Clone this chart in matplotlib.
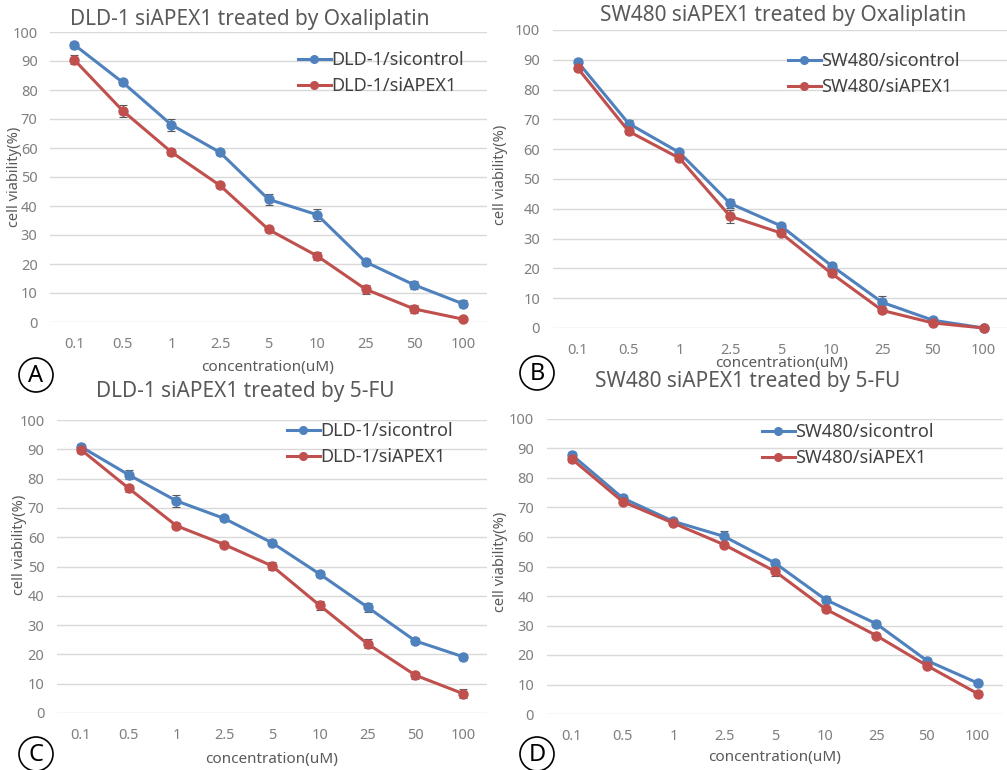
import matplotlib
matplotlib.use("Agg")
import matplotlib.pyplot as plt
from matplotlib.patches import Ellipse
from matplotlib.lines import Line2D
import numpy as np

plt.rcParams['font.family'] = ['Noto Sans', 'DejaVu Sans']

conc = ['0.1', '0.5', '1', '2.5', '5', '10', '25', '50', '100']

# Panel A: DLD-1 Oxaliplatin
a_ctrl = [95.6, 82.6, 68.0, 58.5, 42.3, 37.0, 20.7, 12.8, 6.3]
a_ctrl_err = [1.0, 1.0, 2.0, 0.8, 2.0, 2.0, 1.0, 1.5, 1.2]
a_si = [90.4, 72.8, 58.6, 47.1, 31.9, 22.8, 11.3, 4.5, 1.0]
a_si_err = [1.5, 2.2, 1.0, 0.8, 0.8, 1.5, 1.5, 1.5, 0.5]

# Panel B: SW480 Oxaliplatin
b_ctrl = [89.2, 68.6, 58.9, 41.8, 34.3, 20.9, 8.6, 2.6, 0.0]
b_ctrl_err = [1.0, 1.2, 0.8, 1.5, 1.0, 0.8, 2.0, 0.5, 0.3]
b_si = [87.1, 66.0, 57.0, 37.5, 31.9, 18.3, 5.9, 1.7, 0.0]
b_si_err = [0.8, 0.8, 0.8, 2.2, 0.8, 1.0, 0.8, 0.5, 0.3]

# Panel C: DLD-1 5-FU
c_ctrl = [90.9, 81.3, 72.4, 66.4, 58.1, 47.4, 36.1, 24.6, 19.2]
c_ctrl_err = [1.0, 1.5, 2.0, 0.8, 0.8, 1.0, 1.5, 1.0, 1.0]
c_si = [89.9, 76.7, 63.9, 57.5, 50.2, 36.7, 23.6, 12.9, 6.6]
c_si_err = [1.0, 1.2, 1.0, 0.8, 1.5, 1.5, 1.5, 1.2, 1.5]

# Panel D: SW480 5-FU
d_ctrl = [87.8, 73.2, 65.3, 60.2, 51.2, 38.8, 30.6, 18.1, 10.5]
d_ctrl_err = [1.0, 1.0, 1.0, 1.8, 1.0, 1.2, 1.0, 1.0, 0.8]
d_si = [86.4, 72.0, 64.7, 57.4, 48.4, 35.6, 26.6, 16.4, 6.9]
d_si_err = [1.0, 0.8, 0.8, 0.8, 1.5, 1.0, 1.0, 0.8, 0.8]

W, H = 1007, 770
BLUE = '#4F81BD'
RED = '#C0504D'
TXT = '#595959'
TICK = '#7F7F7F'

fig = plt.figure(figsize=(W / 100, H / 100), dpi=100)


def fx(x):
    return x / W


def fy(y):
    return 1 - y / H


panels = [
    dict(box=(50, 487, 32, 322), title='DLD-1 siAPEX1 treated by Oxaliplatin', tpos=(250, 20),
         ctrl=a_ctrl, ce=a_ctrl_err, si=a_si, se=a_si_err,
         labels=('DLD-1/sicontrol', 'DLD-1/siAPEX1'), leg=(298, 51),
         xl=(268, 368), yl=(15, 177), letter='A', lpos=(36, 375)),
    dict(box=(552.6, 1009, 30, 328), title='SW480 siAPEX1 treated by Oxaliplatin', tpos=(783, 16),
         ctrl=b_ctrl, ce=b_ctrl_err, si=b_si, se=b_si_err,
         labels=('SW480/sicontrol', 'SW480/siAPEX1'), leg=(788, 52),
         xl=(782, 364), yl=(500, 175), letter='B', lpos=(537, 373)),
    dict(box=(57, 487, 420, 713), title='DLD-1 siAPEX1 treated by 5-FU', tpos=(245, 392),
         ctrl=c_ctrl, ce=c_ctrl_err, si=c_si, se=c_si_err,
         labels=('DLD-1/sicontrol', 'DLD-1/siAPEX1'), leg=(287, 422),
         xl=(272, 760), yl=(20, 545), letter='C', lpos=(36, 754)),
    dict(box=(546.6, 1003, 419, 714), title='SW480 siAPEX1 treated by 5-FU', tpos=(748, 381),
         ctrl=d_ctrl, ce=d_ctrl_err, si=d_si, se=d_si_err,
         labels=('SW480/sicontrol', 'SW480/siAPEX1'), leg=(762, 423),
         xl=(775, 757), yl=(500, 562), letter='D', lpos=(537, 754)),
]

x = np.arange(len(conc))

for p in panels:
    l, r, t, b = p['box']
    ax = fig.add_axes([fx(l), fy(b), (r - l) / W, (b - t) / H])
    ax.set_xlim(-0.5, len(conc) - 0.5)
    ax.set_ylim(0, 100)
    ax.set_yticks(range(0, 101, 10))
    ax.set_xticks(x)
    ax.set_xticklabels(conc)
    ax.grid(axis='y', color='#D9D9D9', linewidth=1.0)
    ax.set_axisbelow(True)
    for s in ax.spines.values():
        s.set_visible(False)
    ax.tick_params(length=0, labelsize=10.5, labelcolor=TICK)
    ax.tick_params(axis='x', pad=11)
    ax.tick_params(axis='y', pad=9)

    handles = []
    for vals, errs, col in ((p['ctrl'], p['ce'], BLUE), (p['si'], p['se'], RED)):
        ax.errorbar(x, vals, yerr=errs, color=col, linewidth=2.2, marker='o', markersize=6.5,
                    ecolor='#595959', elinewidth=0.8, capsize=3, capthick=0.8,
                    clip_on=False, zorder=3)
        handles.append(Line2D([], [], color=col, linewidth=2.2, marker='o', markersize=5.5))

    lx, ly = p['leg']
    ax.legend(handles, list(p['labels']), loc='upper left', bbox_to_anchor=(fx(lx), fy(ly)),
              bbox_transform=fig.transFigure, frameon=False, fontsize=13, labelcolor='#404040',
              handlelength=1.8, handletextpad=0.05, borderpad=0, borderaxespad=0,
              labelspacing=0.45)

    fig.text(fx(p['tpos'][0]), fy(p['tpos'][1]), p['title'], ha='center', va='center',
             fontsize=15, color=TXT)
    fig.text(fx(p['xl'][0]), fy(p['xl'][1]), 'concentration(uM)', ha='center', va='center',
             fontsize=11, color=TXT)
    fig.text(fx(p['yl'][0]), fy(p['yl'][1]), 'cell viability(%)', ha='center', va='center',
             rotation=90, fontsize=10.5, color=TXT)

    cx, cy = p['lpos']
    fig.patches.append(Ellipse((fx(cx), fy(cy)), 34 / W, 34 / H, transform=fig.transFigure,
                               facecolor='none', edgecolor='black', linewidth=1.2))
    fig.text(fx(cx), fy(cy + 1), p['letter'], ha='center', va='center', fontsize=17,
             color='black')

fig.savefig('out.png', dpi=100)
